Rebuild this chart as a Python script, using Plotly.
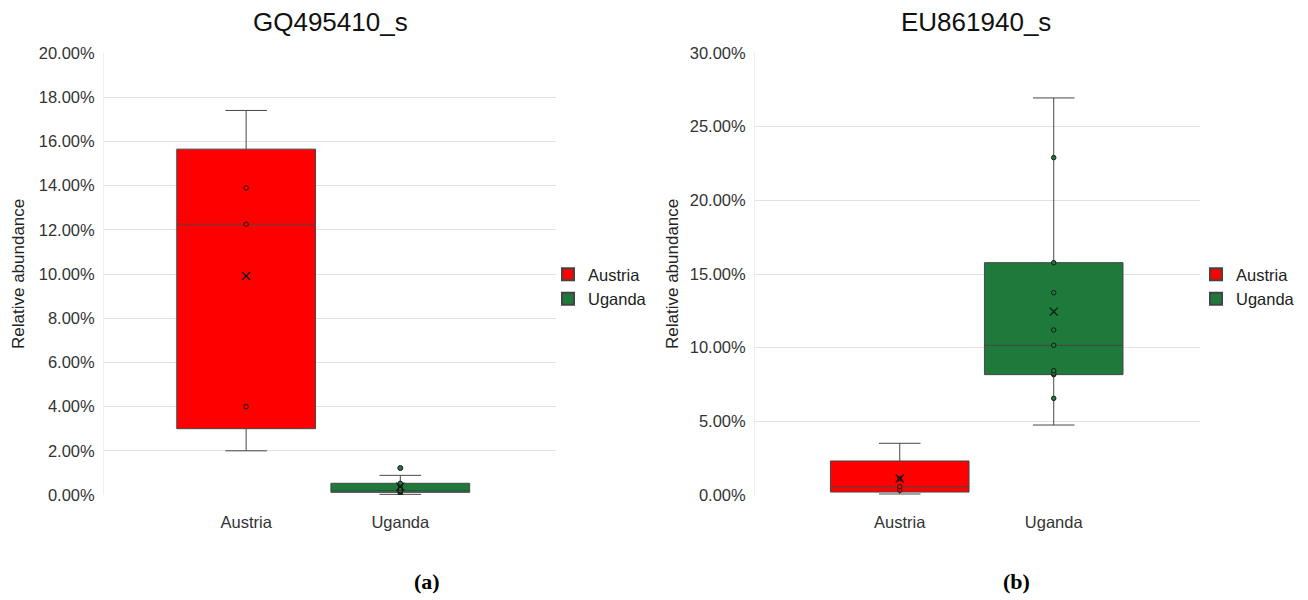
import numpy as np
import plotly.graph_objects as go
from plotly.subplots import make_subplots

# Relative abundance per sample (fractions)
groups = ["Austria", "Uganda"]
gq_austria = [0.020, 0.040, 0.1225, 0.139, 0.174]
gq_uganda = [0.0003, 0.0008, 0.0012, 0.0015, 0.0018, 0.0020, 0.0030, 0.0045, 0.0053, 0.0089, 0.0122]
eu_austria = [0.0007, 0.0033, 0.0057, 0.0111, 0.0351]
eu_uganda = [0.0475, 0.0656, 0.0817, 0.0825, 0.0844, 0.1016, 0.1120, 0.1373, 0.1577, 0.2290, 0.2695]

panel_titles = ["GQ495410_s", "EU861940_s"]
panel_tags = ["(a)", "(b)"]
y_ticks_a = [0.0, 0.02, 0.04, 0.06, 0.08, 0.10, 0.12, 0.14, 0.16, 0.18, 0.20]
y_ticks_b = [0.0, 0.05, 0.10, 0.15, 0.20, 0.25, 0.30]

colors = {"Austria": "#ff0000", "Uganda": "#1e7a3a"}

W, H = 1308, 600
font = "Liberation Sans, Arial, sans-serif"


def inner_points(vals):
    """Points strictly between the whisker ends (exclusive quartiles, 1.5 IQR fences)."""
    v = np.sort(np.asarray(vals, dtype=float))
    n = len(v)
    half = n // 2
    lower = v[:half]
    upper = v[half + 1:] if n % 2 else v[half:]
    q1, q3 = np.median(lower), np.median(upper)
    iqr = q3 - q1
    inside = v[(v >= q1 - 1.5 * iqr) & (v <= q3 + 1.5 * iqr)]
    lo, hi = inside.min(), inside.max()
    return [x for x in v if lo < x < hi]


fig = make_subplots(rows=1, cols=2)

panels = [
    (1, {"Austria": gq_austria, "Uganda": gq_uganda}, "legend"),
    (2, {"Austria": eu_austria, "Uganda": eu_uganda}, "legend2"),
]

for col, data, leg in panels:
    for g in groups:
        vals = data[g]
        fig.add_trace(go.Box(
            y=vals, x=[g] * len(vals), name=g,
            quartilemethod="exclusive",
            boxpoints="outliers", jitter=0, pointpos=0,
            fillcolor=colors[g],
            line=dict(color="#474747", width=1),
            whiskerwidth=0.3, width=0.9,
            marker=dict(size=5, color=colors[g], line=dict(color="#1a1a1a", width=1)),
            showlegend=False, hoverinfo="y",
        ), row=1, col=col)
        pts = inner_points(vals)
        fig.add_trace(go.Scatter(
            x=[g] * len(pts), y=pts, mode="markers",
            marker=dict(size=4.5, color=colors[g], line=dict(color="#1a1a1a", width=1)),
            showlegend=False, hoverinfo="y",
        ), row=1, col=col)
        # mean marker
        fig.add_trace(go.Scatter(
            x=[g], y=[float(np.mean(vals))], mode="markers",
            marker=dict(symbol="x-thin", size=8, line=dict(color="#111111", width=1.2)),
            showlegend=False, hoverinfo="y",
        ), row=1, col=col)
    for g in groups:
        fig.add_trace(go.Scatter(
            x=[None], y=[None], mode="markers", name=g,
            marker=dict(symbol="square", size=11, color=colors[g],
                        line=dict(color="#444444", width=1)),
            legend=leg, showlegend=True,
        ), row=1, col=col)


def px_x(p):
    return p / W


def px_y(p):
    return 1 - p / H


y_dom = [px_y(495), px_y(53)]

fig.update_xaxes(showgrid=False, zeroline=False, showline=False, ticks="",
                 automargin=False, ticklabelstandoff=15,
                 tickfont=dict(size=16.5, color="#333333", family=font),
                 categoryorder="array", categoryarray=groups)
fig.update_xaxes(domain=[px_x(104), px_x(556)], range=[-0.922, 2.01], row=1, col=1)
fig.update_xaxes(domain=[px_x(755), px_x(1200)], range=[-0.94, 1.95], row=1, col=2)

fig.update_yaxes(showgrid=True, gridcolor="#e2e2e2", gridwidth=1, zeroline=False,
                 showline=True, linecolor="#efefef", linewidth=1, ticks="",
                 automargin=False, tickformat=".2%", ticklabelstandoff=5,
                 tickfont=dict(size=16.5, color="#333333", family=font),
                 domain=y_dom)
fig.update_yaxes(range=[0, 0.20], tickvals=y_ticks_a, row=1, col=1)
fig.update_yaxes(range=[0, 0.30], tickvals=y_ticks_b, row=1, col=2)

annotations = []
for cx, t in zip([330, 976], panel_titles):
    annotations.append(dict(x=px_x(cx), y=px_y(22), xref="paper", yref="paper",
                            text=t, showarrow=False, xanchor="center", yanchor="middle",
                            font=dict(size=26, color="#111111", family=font)))
for cx in [18, 672]:
    annotations.append(dict(x=px_x(cx), y=px_y(274), xref="paper", yref="paper",
                            text="Relative abundance", textangle=-90, showarrow=False,
                            xanchor="center", yanchor="middle",
                            font=dict(size=17, color="#222222", family=font)))
for cx, t in zip([427, 1017], panel_tags):
    annotations.append(dict(x=px_x(cx), y=px_y(581), xref="paper", yref="paper",
                            text="<b>" + t + "</b>", showarrow=False,
                            xanchor="center", yanchor="middle",
                            font=dict(size=22, color="#000000",
                                      family="Liberation Serif, Times New Roman, serif")))

legend_style = dict(font=dict(size=16.5, color="#222222", family=font),
                    bgcolor="rgba(0,0,0,0)", itemsizing="constant",
                    xanchor="left", yanchor="top", tracegroupgap=0,
                    itemwidth=30)

fig.update_layout(
    width=W, height=H,
    margin=dict(l=0, r=0, t=0, b=0, autoexpand=False),
    paper_bgcolor="white", plot_bgcolor="white",
    annotations=annotations,
    legend=dict(x=px_x(548), y=px_y(257), **legend_style),
    legend2=dict(x=px_x(1196), y=px_y(257), **legend_style),
    font=dict(family=font),
)

fig.write_html("out.html")
